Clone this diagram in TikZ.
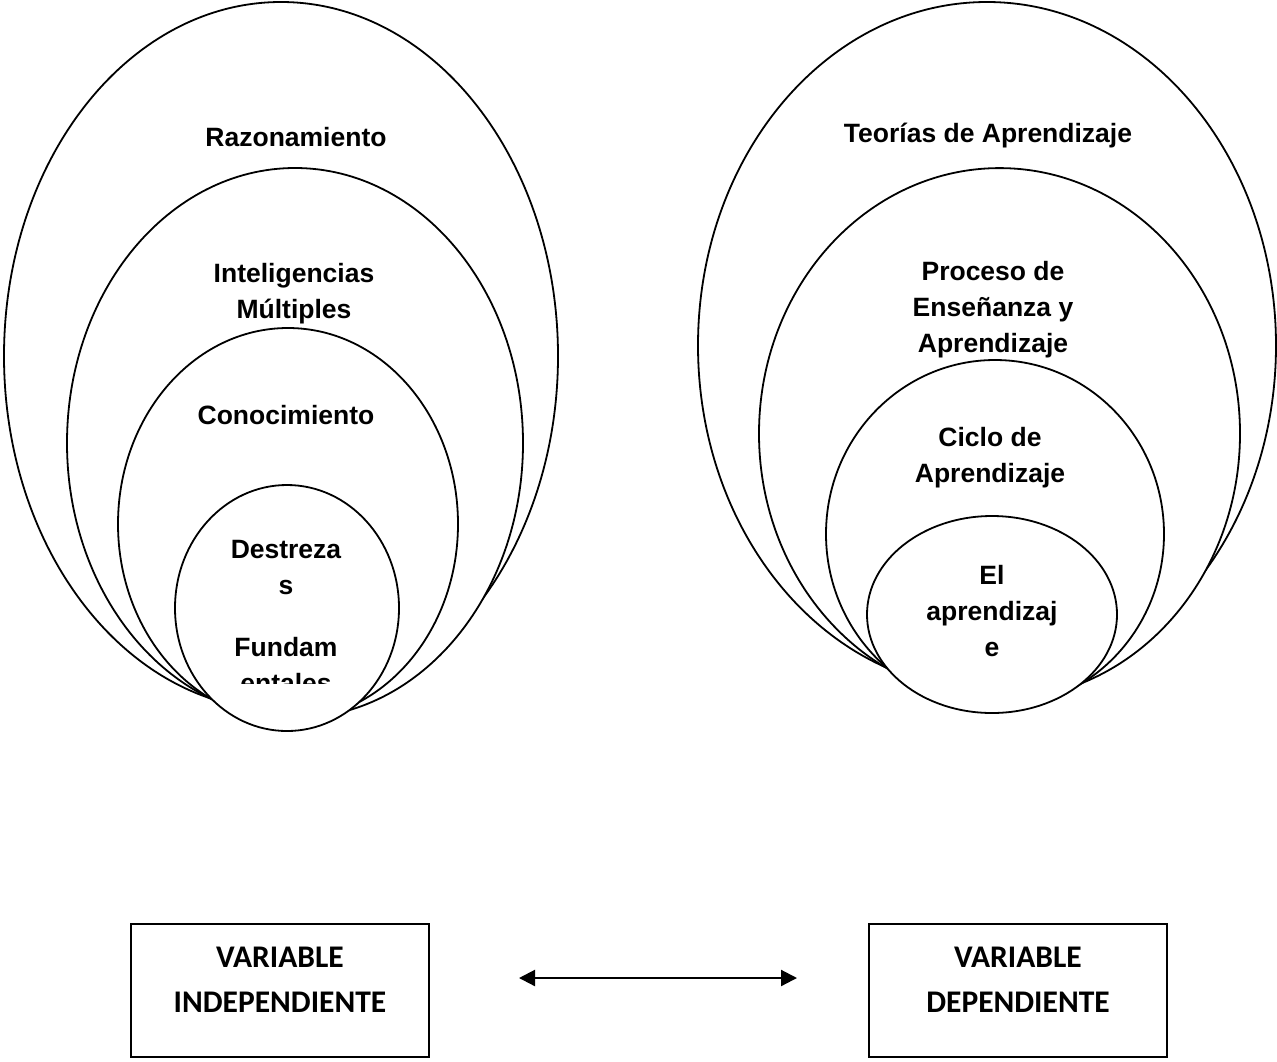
\documentclass[tikz,border=0pt]{standalone}
\usepackage{fontspec}
\setmainfont{Liberation Sans}
\newfontfamily\calib{Carlito}
\usetikzlibrary{shapes.geometric,arrows.meta}

\begin{document}
\begin{tikzpicture}[x=1pt,y=-1pt,
        ring/.style={ellipse,draw,fill=white,line width=1.8pt,inner sep=0pt},
        lbl/.style={font=\fontsize{26.5}{36}\selectfont\bfseries,align=center,inner sep=0pt},
        varbox/.style={draw,line width=1.8pt,minimum width=298pt,minimum height=133pt},
        vartxt/.style={font=\calib\fontsize{31.5}{45}\selectfont\bfseries,align=center,inner sep=0pt},
        link/.style={{Triangle[length=16pt,width=16pt]}-{Triangle[length=16pt,width=16pt]},line width=2.2pt}]
    \useasboundingbox (0,0) rectangle (1277,1061);
    % variable independiente
    \node[ring,minimum width=554pt,minimum height=708pt] (razon) at (281,356) {};
    \node[ring,minimum width=456pt,minimum height=550pt] (intmul) at (295,443) {};
    \node[ring,minimum width=340pt,minimum height=392pt] (conoc) at (288,524) {};
    \node[ring,minimum width=224pt,minimum height=246pt] (destr) at (287,608) {};
    \node[lbl] (razon-t) at (296,137) {Razonamiento};
    \node[lbl] (intmul-t) at (294,294) {Inteligencias\\Múltiples};
    \node[lbl] (conoc-t) at (286,415) {Conocimiento};
    \begin{scope}
        \clip (170,480) rectangle (400,683);
        \node[lbl] (destr-t) at (286,617) {Destreza\\s\\[26pt]Fundam\\entales};
    \end{scope}
    % variable dependiente
    \node[ring,minimum width=578pt,minimum height=687pt] (teor) at (987,345.5) {};
    \node[ring,minimum width=481pt,minimum height=531pt] (proc) at (999.5,433.6) {};
    \node[ring,minimum width=338pt,minimum height=348pt] (ciclo) at (995,534) {};
    \node[ring,minimum width=250pt,minimum height=197pt] (aprend) at (992,614.5) {};
    \node[lbl] (teor-t) at (988,136) {Teorías de Aprendizaje};
    \node[lbl] (proc-t) at (993,310) {Proceso de\\Enseñanza y\\Aprendizaje};
    \node[lbl] (ciclo-t) at (990,458) {Ciclo de\\Aprendizaje};
    \node[lbl] (aprend-t) at (992,611) {El\\aprendizaj\\e};
    % cajas
    \node[varbox] (vi) at (280,990.5) {};
    \node[vartxt] (vi-t) at (280,980) {VARIABLE\\INDEPENDIENTE};
    \node[varbox] (vd) at (1018,990.5) {};
    \node[vartxt] (vd-t) at (1018,980) {VARIABLE\\DEPENDIENTE};
    \coordinate (ai) at (519,978);
    \coordinate (ad) at (797,978);
    \draw[link] (ai) -- (ad);
\end{tikzpicture}
\end{document}
